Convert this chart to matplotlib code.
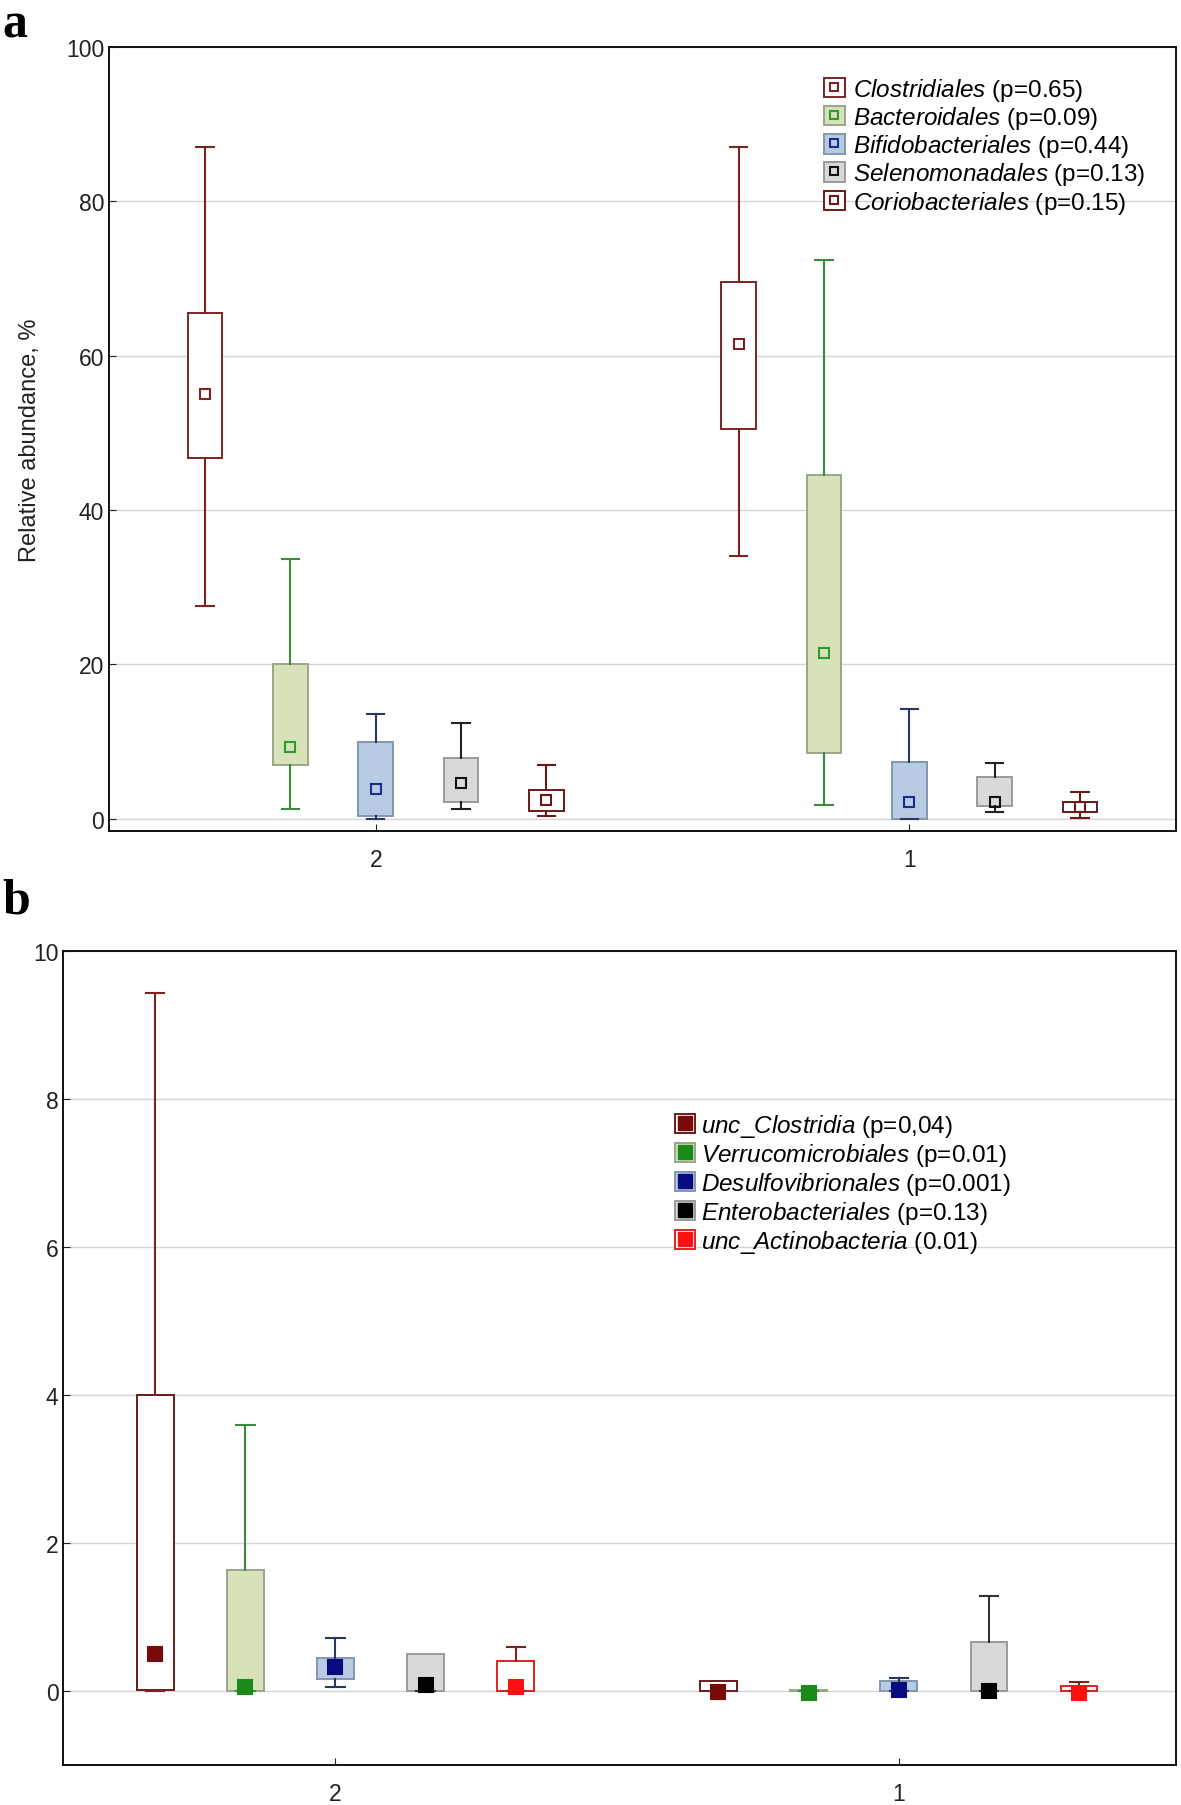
import numpy as np
import matplotlib
matplotlib.use('Agg')
import matplotlib.pyplot as plt
from matplotlib.patches import Patch
from matplotlib.lines import Line2D

plt.rcParams['font.family'] = ['Liberation Sans', 'DejaVu Sans']
plt.rcParams['mathtext.fontset'] = 'custom'
plt.rcParams['mathtext.rm'] = 'Liberation Sans'
plt.rcParams['mathtext.it'] = 'Liberation Sans:italic'

groups = ['2', '1']

# panel a: orders, per group [whislo, q1, med, q3, whishi]
names_a = ['Clostridiales', 'Bacteroidales', 'Bifidobacteriales', 'Selenomonadales', 'Coriobacteriales']
pvals_a = ['(p=0.65)', '(p=0.09)', '(p=0.44)', '(p=0.13)', '(p=0.15)']
g2_a = [[27.5, 46.7, 55.1, 65.5, 87.0],
        [1.2, 7.0, 9.3, 20.0, 33.6],
        [0.0, 0.4, 3.9, 10.0, 13.6],
        [1.2, 2.1, 4.6, 7.9, 12.4],
        [0.3, 1.0, 2.4, 3.7, 6.9]]
g1_a = [[34.0, 50.5, 61.5, 69.6, 87.0],
        [1.8, 8.5, 21.5, 44.5, 72.4],
        [0.0, 0.0, 2.1, 7.3, 14.2],
        [0.9, 1.6, 2.1, 5.4, 7.2],
        [0.1, 0.9, 1.5, 2.1, 3.4]]

# panel b
names_b = ['unc\\_Clostridia', 'Verrucomicrobiales', 'Desulfovibrionales', 'Enterobacteriales', 'unc\\_Actinobacteria']
pvals_b = ['(p=0,04)', '(p=0.01)', '(p=0.001)', '(p=0.13)', '(0.01)']
g2_b = [[0.0, 0.02, 0.5, 4.0, 9.44],
        [0.0, 0.0, 0.05, 1.63, 3.59],
        [0.05, 0.16, 0.33, 0.45, 0.72],
        [0.0, 0.0, 0.08, 0.5, 0.5],
        [0.0, 0.0, 0.06, 0.4, 0.6]]
g1_b = [[0.0, 0.0, -0.01, 0.14, 0.14],
        [0.0, 0.0, -0.03, 0.01, 0.01],
        [0.0, 0.0, 0.02, 0.14, 0.18],
        [0.0, 0.0, 0.0, 0.66, 1.28],
        [0.0, 0.0, -0.02, 0.07, 0.12]]

face_a = ['white', '#d7e2b9', '#b7cbe3', '#d9d9d9', 'white']
edge_a = ['#7b2323', '#9aa58a', '#8497b0', '#9a9a9a', '#6b1818']
whisk_a = ['#7b2323', '#3c8a3c', '#2b3566', '#222222', '#6b1818']
mark_a = ['#7b2323', '#2f9a2f', '#1d2d8f', '#111111', '#6b1818']

face_b = ['white', '#d7e2b9', '#b7cbe3', '#d9d9d9', 'white']
edge_b = ['#6b1a1a', '#9aa58a', '#8497b0', '#9a9a9a', '#e02020']
whisk_b = ['#7b2323', '#3c8a3c', '#2b3566', '#333333', '#7b2323']
mark_b = ['#7a0a0a', '#1a8a1a', '#0a0a80', '#000000', '#ff1010']

offsets = [-0.32, -0.16, 0.0, 0.16, 0.32]
width = 0.065

fig = plt.figure(figsize=(11.81, 18.06), dpi=100)
ax_a = fig.add_axes([0.0923, 0.5393, 0.9035, 0.4341])
ax_b = fig.add_axes([0.0537, 0.0221, 0.9424, 0.4507])


def draw(ax, g2, g1, face, edge, whisk, mark, filled, msize):
    for i in range(5):
        stats = []
        for vals in (g2[i], g1[i]):
            lo, q1, med, q3, hi = vals
            stats.append(dict(whislo=lo, q1=q1, med=med, q3=q3, whishi=hi, fliers=[]))
        pos = [0 + offsets[i], 1 + offsets[i]]
        bp = ax.bxp(stats, positions=pos, widths=width, capwidths=width / 2,
                    patch_artist=True, showfliers=False,
                    boxprops=dict(facecolor=face[i], edgecolor=edge[i], linewidth=1.4),
                    whiskerprops=dict(color=whisk[i], linewidth=1.5),
                    capprops=dict(color=whisk[i], linewidth=1.5),
                    medianprops=dict(linewidth=0))
        # hide caps where whisker has zero length (no whisker drawn)
        for k, vals in enumerate((g2[i], g1[i])):
            if vals[4] == vals[3]:
                bp['caps'][2 * k + 1].set_visible(False)
        meds = [g2[i][2], g1[i][2]]
        ax.plot(pos, meds, ls='none', marker='s', ms=msize,
                mfc=mark[i] if filled else 'none', mec=mark[i], mew=1.5, zorder=5)


draw(ax_a, g2_a, g1_a, face_a, edge_a, whisk_a, mark_a, False, 6.5)
draw(ax_b, g2_b, g1_b, face_b, edge_b, whisk_b, mark_b, True, 10)

for ax in (ax_a, ax_b):
    ax.set_xticks([0, 1])
    ax.set_xticklabels(groups)
    ax.grid(axis='y', color='#d4d4d4', linewidth=1.0)
    ax.set_axisbelow(True)
    ax.tick_params(direction='in', length=5, labelsize=16.5, labelcolor='#222222', color='#222222')
    ax.tick_params(axis='x', pad=12)
    for s in ax.spines.values():
        s.set_linewidth(1.4)
        s.set_color('#111111')

ax_a.set_xlim(-0.5, 1.5)
ax_a.set_ylim(-1.6, 100)
ax_a.set_yticks([0, 20, 40, 60, 80, 100])
ax_a.set_ylabel('Relative abundance, %', fontsize=17, color='#222222', labelpad=18)

ax_b.set_xlim(-0.483, 1.493)
ax_b.set_ylim(-1.0, 10)
ax_b.set_yticks([0, 2, 4, 6, 8, 10])

# legends
h_a = []
for i in range(5):
    p = Patch(facecolor=face_a[i], edgecolor=edge_a[i], linewidth=1.4)
    m = Line2D([], [], ls='none', marker='s', ms=6, mfc='none', mec=mark_a[i], mew=1.5)
    h_a.append((p, m))
lab_a = ['$\\mathit{' + n + '}$ ' + p for n, p in zip(names_a, pvals_a)]
ax_a.legend(h_a, lab_a, loc='upper left', bbox_to_anchor=(0.654, 0.985), frameon=False,
            fontsize=17.5, handlelength=0.85, handleheight=0.85, handletextpad=0.35,
            labelspacing=0.05, borderpad=0.2)

h_b = []
for i in range(5):
    p = Patch(facecolor=face_b[i], edgecolor=edge_b[i], linewidth=1.4)
    m = Line2D([], [], ls='none', marker='s', ms=10, mfc=mark_b[i], mec=mark_b[i])
    h_b.append((p, m))
lab_b = ['$\\mathit{' + n + '}$ ' + p for n, p in zip(names_b, pvals_b)]
ax_b.legend(h_b, lab_b, loc='upper left', bbox_to_anchor=(0.534, 0.823), frameon=False,
            fontsize=17.5, handlelength=0.85, handleheight=0.85, handletextpad=0.25,
            labelspacing=0.08, borderpad=0.2)

fig.text(0.002, 0.9985, 'a', family='Liberation Serif', weight='bold', fontsize=36, va='top')
fig.text(0.002, 0.5135, 'b', family='Liberation Serif', weight='bold', fontsize=36, va='top')

fig.savefig('out.png', dpi=100)
